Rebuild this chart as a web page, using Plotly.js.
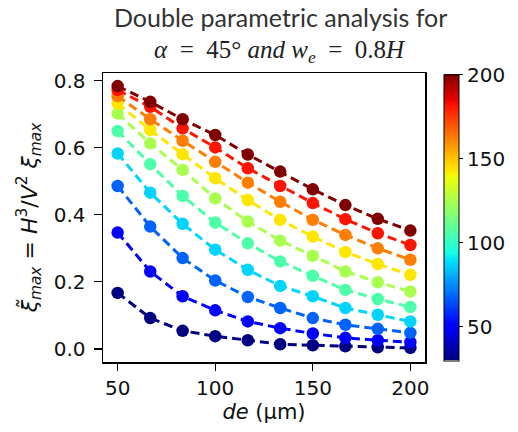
<!DOCTYPE html>
<html>
<head>
<meta charset="utf-8">
<script src="https://cdn.plot.ly/plotly-3.0.1.min.js"></script>
<style>html,body{margin:0;padding:0;background:#fff;}#chart{width:518px;height:432px;}</style>
</head>
<body>
<div id="chart"></div>
<script>
// de (µm) values on x axis
const deValues = [50, 66.7, 83.3, 100, 116.7, 133.3, 150, 166.7, 183.3, 200];
// colour parameter for each curve
const paramValues = [30, 48.9, 67.8, 86.7, 105.6, 124.4, 143.3, 162.2, 181.1, 200];
// series values (normalised xi_max), one per curve, lowest curve first
const curve1  = [0.167, 0.092, 0.054, 0.038, 0.026, 0.014, 0.011, 0.008, 0.005, 0.003];
const curve2  = [0.347, 0.231, 0.157, 0.115, 0.082, 0.062, 0.046, 0.033, 0.026, 0.020];
const curve3  = [0.486, 0.365, 0.271, 0.204, 0.155, 0.122, 0.092, 0.072, 0.060, 0.048];
const curve4  = [0.583, 0.466, 0.373, 0.296, 0.236, 0.188, 0.157, 0.122, 0.102, 0.082];
const curve5  = [0.650, 0.551, 0.456, 0.377, 0.315, 0.261, 0.218, 0.176, 0.149, 0.125];
const curve6  = [0.702, 0.613, 0.534, 0.449, 0.380, 0.323, 0.278, 0.231, 0.199, 0.171];
const curve7  = [0.732, 0.653, 0.581, 0.509, 0.444, 0.385, 0.335, 0.289, 0.253, 0.221];
const curve8  = [0.754, 0.685, 0.621, 0.558, 0.496, 0.439, 0.385, 0.340, 0.300, 0.266];
const curve9  = [0.772, 0.722, 0.658, 0.601, 0.539, 0.486, 0.435, 0.387, 0.345, 0.310];
const curve10 = [0.784, 0.737, 0.685, 0.638, 0.580, 0.529, 0.476, 0.429, 0.388, 0.353];
const curves = [curve1, curve2, curve3, curve4, curve5, curve6, curve7, curve8, curve9, curve10];
const xTicks = [50, 100, 150, 200];
const yTicks = [0, 0.2, 0.4, 0.6, 0.8];
const cbTicks = [50, 100, 150, 200];

// matplotlib "jet" colormap
const jetSeg = {
  r: [[0,0],[0.35,0],[0.66,1],[0.89,1],[1,0.5]],
  g: [[0,0],[0.125,0],[0.375,1],[0.64,1],[0.91,0],[1,0]],
  b: [[0,0.5],[0.11,1],[0.34,1],[0.65,0],[1,0]]
};
function interp(seg, t) {
  for (let i = 1; i < seg.length; i++) {
    if (t <= seg[i][0]) {
      const a = seg[i-1], b = seg[i];
      return a[1] + (b[1]-a[1]) * (t - a[0]) / (b[0]-a[0]);
    }
  }
  return seg[seg.length-1][1];
}
function jet(t) {
  t = Math.max(0, Math.min(1, t));
  const c = ['r','g','b'].map(k => Math.round(255*interp(jetSeg[k], t)));
  return 'rgb(' + c.join(',') + ')';
}
const stops = [0,0.11,0.125,0.34,0.35,0.375,0.64,0.65,0.66,0.89,0.91,1];
const jetScale = stops.map(s => [s, jet(s)]);

const cmin = paramValues[0], cmax = paramValues[paramValues.length-1];
const traces = curves.map((ys, i) => {
  const col = jet((paramValues[i]-cmin)/(cmax-cmin));
  const tr = {
    x: deValues, y: ys, type: 'scatter', mode: 'lines+markers',
    line: {color: col, width: 3, dash: '9px,5px'},
    marker: {size: 12.5, color: paramValues.map(() => paramValues[i]), colorscale: jetScale, cmin: cmin, cmax: cmax, showscale: false},
    showlegend: false, hoverinfo: 'skip'
  };
  if (i === curves.length - 1) {
    tr.marker.showscale = true;
    tr.marker.colorbar = {
      x: 1.059, xanchor: 'left', xpad: 0, y: 0.5, yanchor: 'middle', ypad: 0,
      len: 0.99, lenmode: 'fraction', thickness: 15, thicknessmode: 'pixels',
      outlinewidth: 1, outlinecolor: '#000',
      tickvals: cbTicks, ticks: 'outside', ticklen: 4, tickwidth: 1.2, tickcolor: '#000',
      tickfont: {family: 'DejaVu Sans', size: 20, color: '#111'}
    };
  }
  return tr;
});

const layout = {
  width: 518, height: 432,
  margin: {l: 103, r: 93, t: 73, b: 70},
  paper_bgcolor: '#fff', plot_bgcolor: '#fff',
  showlegend: false,
  xaxis: {
    range: [42.5, 207.5], tickvals: xTicks, ticks: 'outside', ticklen: 7, tickwidth: 1.2, tickcolor: '#000',
    showline: true, mirror: true, linecolor: '#000', linewidth: 1.5, showgrid: false, zeroline: false,
    tickfont: {family: 'DejaVu Sans', size: 20, color: '#111'},
    title: {text: '<i>de</i> (μm)', font: {family: 'DejaVu Sans', size: 21, color: '#111'}, standoff: 6}
  },
  yaxis: {
    range: [-0.039, 0.823], tickvals: yTicks, tickformat: '.1f', ticks: 'outside', ticklen: 8, tickwidth: 1.2, tickcolor: '#000',
    ticklabelstandoff: 4,
    showline: true, mirror: true, linecolor: '#000', linewidth: 1.5, showgrid: false, zeroline: false,
    tickfont: {family: 'DejaVu Sans', size: 20, color: '#111'},
    title: {text: '<i>ξ̃</i><sub><i>max</i></sub>&nbsp;=&nbsp;<i>H</i><sup>3</sup>/<i>V</i><sup>2</sup>&nbsp;<i>ξ</i><sub><i>max</i></sub>', font: {family: 'DejaVu Sans', size: 22, color: '#111'}, standoff: 10}
  },
  annotations: [
    {text: 'Double parametric analysis for', xref: 'paper', yref: 'paper', x: 0.55, y: 1, yshift: 56, xanchor: 'center', yanchor: 'middle', showarrow: false,
     font: {family: 'Lato', size: 25, color: '#333'}},
    {text: '<i>α</i>&nbsp;&nbsp;=&nbsp;&nbsp;45°&nbsp;<i>and&nbsp;w<sub>e</sub></i>&nbsp;&nbsp;=&nbsp;&nbsp;0.8<i>H</i>', xref: 'paper', yref: 'paper', x: 0.55, y: 1, yshift: 22, xanchor: 'center', yanchor: 'middle', showarrow: false,
     font: {family: 'Liberation Serif', size: 25, color: '#222'}}
  ]
};
Plotly.newPlot('chart', traces, layout, {displayModeBar: false, staticPlot: true});
</script>
</body>
</html>
